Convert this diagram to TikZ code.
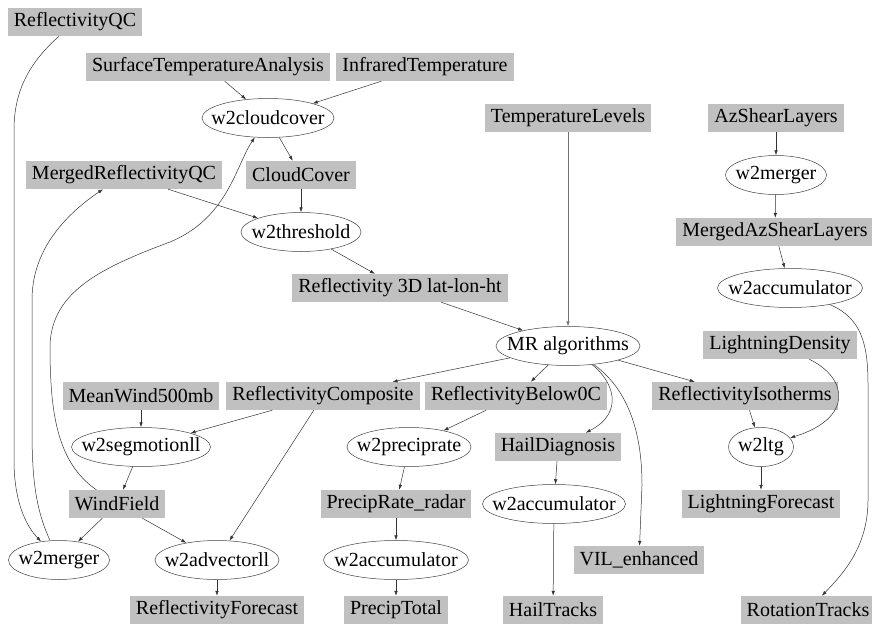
\documentclass[tikz,border=0pt]{standalone}
\usepackage{fontspec}
\setmainfont{Liberation Serif}
\newfontfamily\gvfont{Liberation Serif}
\usepackage{tikz}
\usetikzlibrary{shapes.geometric,arrows.meta}
\definecolor{boxgray}{RGB}{192,192,192}
\tikzset{
	data/.style={rectangle,fill=boxgray,minimum height=28pt,inner xsep=6pt,inner ysep=0pt,font=\gvfont\fontsize{20}{22}\selectfont},
	proc/.style={ellipse,draw=black!75,line width=0.5pt,minimum height=39pt,minimum width=#1,inner xsep=-15pt,inner ysep=0pt,font=\gvfont\fontsize{20}{22}\selectfont},
	proc/.default=130pt,
	flow/.style={-{Latex[length=5pt,width=3.5pt]},line width=0.5pt,draw=black!80}
}
\begin{document}
\begin{tikzpicture}[x=1pt,y=-1pt]
	\useasboundingbox (0,0) rectangle (872,624);
	\node[data] (rqc) at (75,22) {ReflectivityQC};
	\node[data] (sta) at (208,67) {SurfaceTemperatureAnalysis};
	\node[data] (irt) at (425,67) {InfraredTemperature};
	\node[proc=132pt] (cloud) at (268,118) {w2cloudcover};
	\node[data] (tlev) at (568,118) {TemperatureLevels};
	\node[data] (azs) at (776,118) {AzShearLayers};
	\node[data] (mrqc) at (124,175) {MergedReflectivityQC};
	\node[data] (ccov) at (301,175) {CloudCover};
	\node[proc=101pt] (mergeA) at (776,175) {w2merger};
	\node[proc=120pt] (thresh) at (301,232) {w2threshold};
	\node[data] (mazs) at (775,232) {MergedAzShearLayers};
	\node[data] (r3d) at (400,288) {Reflectivity 3D lat-lon-ht};
	\node[proc=145pt] (accA) at (790,288) {w2accumulator};
	\node[proc=144pt] (mr) at (568,346) {MR algorithms};
	\node[data] (ldens) at (780,345) {LightningDensity};
	\node[data] (mw) at (141,396) {MeanWind500mb};
	\node[data] (rcomp) at (323,396) {ReflectivityComposite};
	\node[data] (rb0) at (516,396) {ReflectivityBelow0C};
	\node[data] (riso) at (745,396) {ReflectivityIsotherms};
	\node[proc=139pt] (seg) at (141,447) {w2segmotionll};
	\node[proc=124pt] (prate) at (409,447) {w2preciprate};
	\node[data] (hdiag) at (558,447) {HailDiagnosis};
	\node[proc=65pt] (ltg) at (761,447) {w2ltg};
	\node[data] (wind) at (117,504) {WindField};
	\node[data] (prr) at (396,504) {PrecipRate\_radar};
	\node[proc=143pt] (accB) at (554,504) {w2accumulator};
	\node[data] (lfc) at (761,504) {LightningForecast};
	\node[proc=101pt] (mergeB) at (59,560) {w2merger};
	\node[proc=124pt] (adv) at (217,560) {w2advectorll};
	\node[proc=145pt] (accC) at (396,560) {w2accumulator};
	\node[data] (vil) at (639,560) {VIL\_enhanced};
	\node[data] (rfc) at (217,610) {ReflectivityForecast};
	\node[data] (ptot) at (396,610) {PrecipTotal};
	\node[data] (htr) at (553,610) {HailTracks};
	\node[data] (rtr) at (808,610) {RotationTracks};

	\draw[flow] (sta) -- (cloud);
	\draw[flow] (irt) -- (cloud);
	\draw[flow] (cloud) -- (ccov);
	\draw[flow] (ccov) -- (thresh);
	\draw[flow] (mrqc) -- (thresh);
	\draw[flow] (thresh) -- (r3d);
	\draw[flow] (r3d) -- (mr);
	\draw[flow,draw=black!55] (tlev) -- (mr);
	\draw[flow] (azs) -- (mergeA);
	\draw[flow] (mergeA) -- (mazs);
	\draw[flow] (mazs) -- (accA);
	\draw[flow] (accA) .. controls (862,318) and (868,345) .. (868,385) -- (868,500) .. controls (868,545) and (845,572) .. (rtr);
	\draw[flow] (mr) -- (rcomp);
	\draw[flow] (mr) -- (rb0);
	\draw[flow] (mr) -- (riso);
	\draw[flow] (mr) .. controls (612,380) and (626,412) .. (hdiag);
	\draw[flow] (mr) .. controls (632,392) and (642,440) .. (642,485) -- (vil);
	\draw[flow] (ldens) .. controls (848,378) and (854,418) .. (ltg);
	\draw[flow] (riso) -- (ltg);
	\draw[flow] (ltg) -- (lfc);
	\draw[flow] (mw) -- (seg);
	\draw[flow] (rcomp) -- (seg);
	\draw[flow] (rcomp) -- (adv);
	\draw[flow] (seg) -- (wind);
	\draw[flow] (wind) -- (mergeB);
	\draw[flow] (wind) -- (adv);
	\draw[flow] (adv) -- (rfc);
	\draw[flow] (wind) .. controls (56,462) and (50,410) .. (50,345) .. controls (52,292) and (100,268) .. (170,242) .. controls (228,218) and (236,165) .. (cloud);
	\draw[flow] (rqc) .. controls (30,62) and (14,90) .. (14,130) -- (14,460) .. controls (14,505) and (28,528) .. (mergeB);
	\draw[flow] (mergeB) .. controls (36,510) and (32,480) .. (32,430) -- (32,300) .. controls (32,250) and (65,215) .. (mrqc);
	\draw[flow] (rb0) -- (prate);
	\draw[flow] (prate) -- (prr);
	\draw[flow] (prr) -- (accC);
	\draw[flow] (accC) -- (ptot);
	\draw[flow] (hdiag) -- (accB);
	\draw[flow] (accB) -- (htr);
\end{tikzpicture}
\end{document}
